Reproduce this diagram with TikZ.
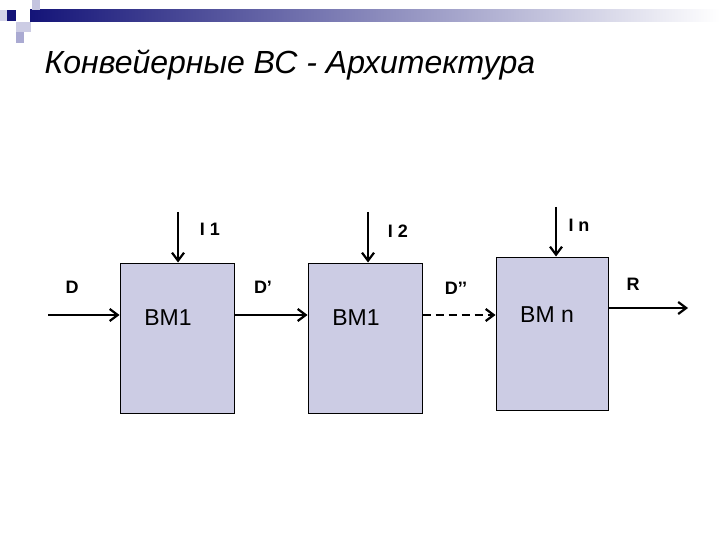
\documentclass[tikz,border=0pt]{standalone}
\usepackage{fontspec}
\setmainfont{Liberation Sans}
\usetikzlibrary{arrows.meta}
\definecolor{boxfill}{RGB}{204,204,228}
\definecolor{navy}{RGB}{20,20,120}
\definecolor{lav}{RGB}{170,170,210}
\begin{document}
\begin{tikzpicture}[x=1pt,y=-1pt,
  bm/.style={draw=black,fill=boxfill,line width=1pt,minimum width=114pt,minimum height=150pt,inner sep=0pt},
  conn/.style={line width=2.2pt,-{Straight Barb[length=8pt,width=12pt,line width=2.2pt]}},
  lbl/.style={font=\bfseries\fontsize{18}{20}\selectfont},
  bmt/.style={font=\fontsize{23}{26}\selectfont}]
\useasboundingbox (0,0) rectangle (720,540);
% decoration
\shade[left color=navy,right color=white] (30,10) rectangle (720,22);
\fill[navy] (7,10) rectangle (16,21);
\fill[lav!70] (32,0) rectangle (40,10);
\fill[lav!60] (16,22) rectangle (31,32);
\fill[lav] (16,32) rectangle (24,43);
\fill[lav!50] (0,10) rectangle (7,21);
\node[anchor=west,font=\itshape\fontsize{32}{36}\selectfont] (title) at (41,65) {Конвейерные ВС - Архитектура};
% boxes
\node[bm] (b1) at (177,338) {};
\node[bm] (b2) at (365,338) {};
\node[bm,minimum width=112pt,minimum height=153pt] (b3) at (552,333.5) {};
\node[bmt] (t1) at (168,318) {BM1};
\node[bmt] (t2) at (356,318) {BM1};
\node[bmt] (t3) at (547,315) {BM n};
% coordinates
\coordinate (din) at (48,315);
\coordinate (rout) at (688,308);
\coordinate (i1s) at (178,212);
\coordinate (i2s) at (368,212);
\coordinate (ins) at (556,207);
\draw[conn] (din) -- (din -| b1.west);
\draw[conn] (b1.east |- din) -- (b2.west |- din);
\draw[conn,dash pattern=on 8pt off 5pt] (b2.east |- din) -- (b3.west |- din);
\draw[conn] (b3.east |- rout) -- (rout);
\draw[conn] (i1s) -- (i1s |- b1.north);
\draw[conn] (i2s) -- (i2s |- b2.north);
\draw[conn] (ins) -- (ins |- b3.north);
% labels
\node[lbl] (l1) at (210,229) {I 1};
\node[lbl] (l2) at (398,231) {I 2};
\node[lbl] (l3) at (579,225) {I n};
\node[lbl] (ld) at (72,287) {D};
\node[lbl] (ld1) at (263,287) {D’};
\node[lbl] (ld2) at (456,288) {D’’};
\node[lbl] (lr) at (633,284) {R};
\end{tikzpicture}
\end{document}
